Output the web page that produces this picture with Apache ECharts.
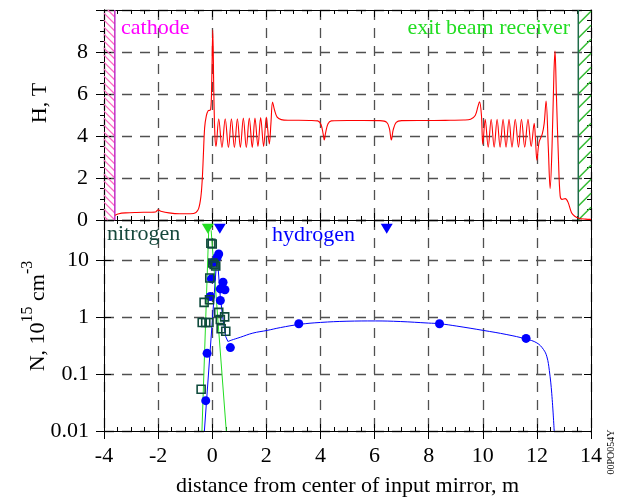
<!DOCTYPE html>
<html><head><meta charset="utf-8">
<script src="https://cdn.jsdelivr.net/npm/echarts@6/dist/echarts.min.js"></script>
<style>html,body{margin:0;padding:0;background:#fff}#c{width:619px;height:497px}</style>
</head><body><div id="c"></div>
<script>
// ---- data ----
const fieldH = [
 [-3.6,0.22],[-3.45,0.3],[-3.2,0.34],[-2.8,0.36],[-2.3,0.37],[-2.1,0.38],[-2.0,0.48],[-1.9,0.42],[-1.6,0.34],[-1.2,0.3],[-0.8,0.3],[-0.6,0.36],[-0.5,0.55],[-0.42,1.1],[-0.37,1.9],[-0.33,3.0],[-0.28,4.4],[-0.22,4.95],[-0.15,5.2],[-0.06,5.25],[-0.02,6.5],[0.02,9.05],[0.06,6.0],[0.1,4.0],[0.14,3.5],
 [0.24,4.82],[0.36,3.45],[0.48,4.82],[0.6,3.45],[0.71,4.82],[0.82,3.45],[0.93,4.82],[1.04,3.45],[1.15,4.85],[1.26,3.45],[1.37,4.85],[1.48,3.45],[1.58,4.85],[1.69,3.5],[1.79,4.88],[1.9,3.5],[2.0,4.9],[2.11,3.62],[2.17,4.6],[2.23,5.62],[2.3,5.25],[2.4,4.9],[2.55,4.78],[2.8,4.75],[3.2,4.75],[3.6,4.74],[3.9,4.72],[4.02,4.55],[4.1,4.1],[4.14,3.81],[4.19,4.15],[4.28,4.58],[4.4,4.72],[5.0,4.74],[5.6,4.74],[6.2,4.73],[6.45,4.65],[6.55,4.35],[6.62,3.81],[6.69,4.3],[6.8,4.65],[7.0,4.73],[7.6,4.74],[8.2,4.74],[8.8,4.75],[9.3,4.76],[9.55,4.8],[9.72,4.98],[9.82,5.4],[9.88,5.63],[9.95,5.0],[10.0,3.6],
 [10.09,4.8],[10.2,3.47],[10.31,4.8],[10.42,3.47],[10.53,4.8],[10.64,3.47],[10.75,4.8],[10.86,3.47],[10.97,4.8],[11.08,3.47],[11.2,4.8],[11.32,3.47],[11.43,4.8],[11.55,3.47],[11.67,4.8],[11.79,3.5],[11.9,4.6],[11.95,3.8],[12.0,2.85],[12.08,3.7],[12.2,4.1],[12.27,4.6],[12.34,5.67],[12.42,3.5],[12.49,1.5],[12.56,3.5],[12.63,7.0],[12.67,8.04],[12.72,6.0],[12.8,2.8],[12.86,1.15],[12.93,0.98],[13.05,1.02],[13.15,0.85],[13.28,0.35],[13.4,0.18],[13.55,0.08],[13.8,0.04],[14.0,0.03]
];
const hydrogenPts = [[0.24,12.7],[0.18,11.0],[0.04,9.0],[-0.03,4.65],[0.4,4.05],[0.3,3.1],[0.47,3.0],[0.3,1.94],[-0.07,2.28],[0.67,0.29],[-0.19,0.23],[-0.24,0.034],[3.2,0.76],[8.4,0.76],[11.6,0.42]];
const nitrogenPts = [[-0.05,19.6],[0.0,19.0],[0.02,8.8],[0.07,8.3],[0.13,7.8],[-0.09,4.8],[-0.3,1.8],[-0.1,2.0],[-0.37,0.8],[-0.24,0.8],[-0.12,0.8],[0.24,1.2],[0.3,0.9],[0.46,1.0],[0.33,0.62],[0.5,0.56],[-0.41,0.054]];
const hydrogenFitNear = [[-0.29,0.01],[0.18,12.5],[0.3,2.2],[0.4,0.9],[0.5,0.45],[0.58,0.37]];
const hydrogenFitFar = [[0.58,0.37],[0.7,0.39],[1.04,0.44],[1.5,0.52],[2.03,0.58],[2.52,0.65],[3.23,0.74],[4.0,0.8],[4.98,0.84],[6.03,0.85],[6.95,0.83],[7.99,0.78],[8.4,0.76],[9.04,0.69],[10.02,0.58],[10.89,0.49],[11.6,0.41],[12.0,0.35],[12.24,0.27],[12.37,0.2],[12.46,0.115],[12.55,0.045],[12.64,0.01]];
const nitrogenFitLeft = [[-0.38,0.01],[-0.13,33]];
const nitrogenFitRight = [[-0.04,33],[0.52,0.01]];
const nitrogenMarker = [[-0.16,35]];
const hydrogenMarkers = [[0.28,35],[6.45,35]];
const cathodeZone = [[-4,-3.6]];
const receiverZone = [[13.53,14]];
const hTicksMax = 10;

// ---- chart ----
const FONT = 'Liberation Serif';
const dash = {color:'#505050', width:1.3, type:[10,8]};
const blk = {color:'#000', width:1};
function xa(grid, pos, o){
  return Object.assign({gridIndex:grid, type:'value', min:-4, max:14, interval:2, position:pos,
    axisLine:{onZero:false, lineStyle:blk}, axisTick:{show:true, inside:true, length:7, lineStyle:blk},
    minorTick:{show:false}, axisLabel:{show:false}, splitLine:{show:false}}, o||{});
}
function ya(grid, pos, o){
  const base = grid===0 ? {type:'value', min:0, max:hTicksMax, interval:2} : {type:'log', logBase:10, min:0.01, max:50};
  return Object.assign(base, {gridIndex:grid, position:pos,
    axisLine:{onZero:false, lineStyle:blk}, axisTick:{show:true, inside:true, length:7, lineStyle:blk},
    minorTick:{show:false}, axisLabel:{show:false}, splitLine:{show:false}}, o||{});
}
const minor = {show:true, splitNumber:4, length:4, lineStyle:blk};
const lbl = {show:true, fontFamily:FONT, fontSize:22, color:'#000'};

function hatch(dir, spacing, color, lw, edgeColor, edgeAtRight){
  return function(params, api){
    const x0 = api.value(0), x1 = api.value(1);
    const p0 = api.coord([x0, hTicksMax]), p1 = api.coord([x1, 0]);
    const L = p0[0], T = p0[1], R = p1[0], B = p1[1], W = R - L;
    const ch = [];
    for (let t = T - W; t < B; t += spacing){
      let xa_=L, ya_=t, xb=R, yb=t+W;
      if (ya_ < T){ xa_ += T-ya_; ya_ = T; }
      if (yb > B){ xb -= yb-B; yb = B; }
      if (xb <= xa_) continue;
      if (dir === '/'){ const a = L+R-xa_, b = L+R-xb; xa_ = a; xb = b; }
      ch.push({type:'line', shape:{x1:xa_, y1:ya_, x2:xb, y2:yb}, style:{stroke:color, lineWidth:lw}});
    }
    const ex = edgeAtRight ? R : L;
    ch.push({type:'line', shape:{x1:ex, y1:T, x2:ex, y2:B}, style:{stroke:edgeColor, lineWidth:1.5}});
    return {type:'group', children:ch};
  };
}

const chart = echarts.init(document.getElementById('c'), null, {renderer:'canvas', width:619, height:497});
chart.setOption({
  animation:false,
  backgroundColor:'#fff',
  grid:[{left:104, top:10, width:487, height:210}, {left:104, top:220, width:487, height:211}],
  xAxis:[
    xa(0,'bottom',{minorTick:minor, splitLine:{show:true, lineStyle:dash}}),
    xa(0,'top',{minorTick:minor}),
    xa(1,'bottom',{axisTick:{show:true, inside:false, length:8, lineStyle:blk}, axisLabel:Object.assign({margin:14}, lbl), splitLine:{show:true, lineStyle:dash}}),
    xa(1,'bottom',{minorTick:minor}),
    xa(1,'top',{minorTick:minor})
  ],
  yAxis:[
    ya(0,'left',{axisTick:{show:true, inside:false, length:8, lineStyle:blk}, minorTick:minor,
      axisLabel:Object.assign({margin:16, formatter:v => v===hTicksMax ? '' : String(v)}, lbl), splitLine:{show:true, lineStyle:dash}}),
    ya(0,'left',{}),
    ya(0,'right',{minorTick:minor}),
    ya(1,'left',{axisTick:{show:true, inside:false, length:8, lineStyle:blk},
      axisLabel:Object.assign({margin:15, showMaxLabel:false, formatter:v => (v>=0.0099 && v<=10.01) ? String(+v.toPrecision(3)) : ''}, lbl), splitLine:{show:true, lineStyle:dash}}),
    ya(1,'left',{}),
    ya(1,'right',{})
  ],
  series:[
    {type:'custom', xAxisIndex:0, yAxisIndex:0, data:cathodeZone, renderItem:hatch('\\', 7, '#ff66c4', 1.2, '#c030c8', true), silent:true, z:1},
    {type:'custom', xAxisIndex:0, yAxisIndex:0, data:receiverZone, renderItem:hatch('/', 14, '#33bb33', 1.5, '#1e6b4a', false), silent:true, z:1},
    {type:'line', xAxisIndex:0, yAxisIndex:0, data:fieldH, smooth:0.35, showSymbol:false, symbol:'none', lineStyle:{color:'#ff0000', width:1.1}, z:3},
    {type:'line', xAxisIndex:2, yAxisIndex:3, data:hydrogenFitFar, smooth:0.4, symbol:'none', lineStyle:{color:'#0000ff', width:1}, z:3},
    {type:'line', xAxisIndex:2, yAxisIndex:3, data:hydrogenFitNear, symbol:'none', lineStyle:{color:'#0000ff', width:1}, z:3},
    {type:'line', xAxisIndex:2, yAxisIndex:3, data:nitrogenFitLeft, symbol:'none', lineStyle:{color:'#22dd22', width:1}, z:3},
    {type:'line', xAxisIndex:2, yAxisIndex:3, data:nitrogenFitRight, symbol:'none', lineStyle:{color:'#22dd22', width:1}, z:3},
    {type:'scatter', xAxisIndex:2, yAxisIndex:3, data:hydrogenPts, symbol:'circle', symbolSize:9, itemStyle:{color:'#0000ff', opacity:1}, z:4},
    {type:'scatter', xAxisIndex:2, yAxisIndex:3, data:nitrogenPts, symbol:'rect', symbolSize:8, itemStyle:{color:'rgba(0,0,0,0)', borderColor:'#0f4a3c', borderWidth:1.6, opacity:1}, z:5},
    {type:'scatter', xAxisIndex:2, yAxisIndex:3, data:nitrogenMarker, symbol:'triangle', symbolRotate:180, symbolSize:[12,10], itemStyle:{color:'#22dd22', opacity:1}, z:6},
    {type:'scatter', xAxisIndex:2, yAxisIndex:3, data:hydrogenMarkers, symbol:'triangle', symbolRotate:180, symbolSize:[12,10], itemStyle:{color:'#0000ff', opacity:1}, z:6}
  ],
  graphic:[
    {type:'text', x:121, y:28, z:10, style:{text:'cathode', fontFamily:FONT, fontSize:22, fill:'#ff00ff', align:'left', verticalAlign:'middle'}},
    {type:'text', x:570, y:28, z:10, style:{text:'exit beam receiver', fontFamily:FONT, fontSize:22, fill:'#22dd22', align:'right', verticalAlign:'middle'}},
    {type:'text', x:107, y:234, z:10, style:{text:'nitrogen', fontFamily:FONT, fontSize:22, fill:'#16483c', align:'left', verticalAlign:'middle'}},
    {type:'text', x:272, y:235, z:10, style:{text:'hydrogen', fontFamily:FONT, fontSize:22, fill:'#0000ff', align:'left', verticalAlign:'middle'}},
    {type:'text', x:40, y:103, rotation:Math.PI/2, z:10, style:{text:'H, T', fontFamily:FONT, fontSize:22, fill:'#000', align:'center', verticalAlign:'middle'}},
    {type:'text', x:38, y:316, rotation:Math.PI/2, z:10, style:{text:'{a|N, 10}{s|15}{a| cm}{s|-3}', align:'center', verticalAlign:'middle',
      rich:{a:{fontFamily:FONT, fontSize:22, fill:'#000', lineHeight:36, verticalAlign:'middle'}, s:{fontFamily:FONT, fontSize:16, fill:'#000', verticalAlign:'top'}}}},
    {type:'text', x:347.5, y:486, z:10, style:{text:'distance from center of input mirror, m', fontFamily:FONT, fontSize:22, fill:'#000', align:'center', verticalAlign:'middle'}},
    {type:'text', x:611, y:452, rotation:Math.PI/2, z:10, style:{text:'00PO054Y', fontFamily:FONT, fontSize:10, fill:'#000', align:'center', verticalAlign:'middle'}}
  ]
});
</script></body></html>
